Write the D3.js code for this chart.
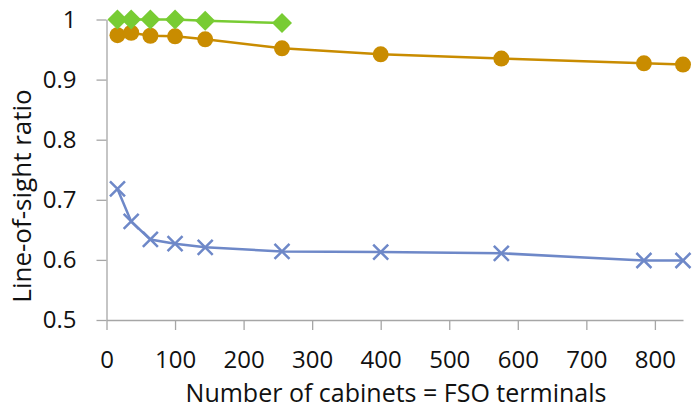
<!DOCTYPE html>
<html><head><meta charset="utf-8">
<script src="https://cdn.jsdelivr.net/npm/d3@7"></script>
<style>body{margin:0;background:#fff}text{font-family:"Open Sans",sans-serif;fill:#111}</style>
</head><body><svg id="c" width="692" height="407"></svg>
<script>
const cabinets = [16, 36, 64, 100, 144, 256, 400, 576, 784, 841];
const greenValues = [1.0, 1.0, 1.0, 1.0, 0.998, 0.994];
const orangeValues = [0.974, 0.978, 0.973, 0.972, 0.967, 0.952, 0.942, 0.935, 0.927, 0.925];
const blueValues = [0.718, 0.664, 0.634, 0.627, 0.621, 0.614, 0.613, 0.611, 0.599, 0.599];
const xTicks = [0, 100, 200, 300, 400, 500, 600, 700, 800];
const yTicks = [0.5, 0.6, 0.7, 0.8, 0.9, 1];

const svg = d3.select("#c");
const x = d3.scaleLinear().domain([0, 841]).range([106.5, 683]);
const y = d3.scaleLinear().domain([0.5, 1]).range([320, 19.5]);
const axisColor = "#a6a6a6";

const xa = svg.append("g").attr("transform", "translate(0,320)")
  .call(d3.axisBottom(x).tickValues(xTicks).tickSize(10).tickPadding(20.5).tickSizeOuter(0).tickFormat(d3.format("d")));
const ya = svg.append("g").attr("transform", "translate(106.5,0)")
  .call(d3.axisLeft(y).tickValues(yTicks).tickSize(10).tickPadding(20).tickSizeOuter(0).tickFormat(d => d === 1 ? "1" : d3.format(".1f")(d)));
[xa, ya].forEach(a => {
  a.selectAll("path,line").attr("stroke", axisColor).attr("stroke-width", 1.3);
  a.selectAll("text").style("font-size", "24px").attr("fill", "#111");
});

svg.append("text").attr("x", 396).attr("y", 401.5).attr("text-anchor", "middle")
  .style("font-size", "25px").text("Number of cabinets = FSO terminals");
svg.append("text").attr("transform", "translate(31,196) rotate(-90)").attr("text-anchor", "middle")
  .style("font-size", "26px").text("Line-of-sight ratio");

const line = d3.line().x(d => x(d[0])).y(d => y(d[1]));
function series(vals, color) {
  const pts = vals.map((v, i) => [cabinets[i], v]);
  svg.append("path").datum(pts).attr("d", line).attr("fill", "none").attr("stroke", color).attr("stroke-width", 2.5);
  return pts;
}
const bluePts = series(blueValues, "#6e88c8");
svg.append("g").selectAll("path").data(bluePts).join("path")
  .attr("d", d => { const cx = x(d[0]), cy = y(d[1]), s = 7.5; return `M${cx-s},${cy-s}L${cx+s},${cy+s}M${cx-s},${cy+s}L${cx+s},${cy-s}`; })
  .attr("stroke", "#6e88c8").attr("stroke-width", 2.5).attr("fill", "none");
const orangePts = series(orangeValues, "#c98c00");
svg.append("g").selectAll("circle").data(orangePts).join("circle")
  .attr("cx", d => x(d[0])).attr("cy", d => y(d[1])).attr("r", 8).attr("fill", "#c98c00");
const greenPts = series(greenValues, "#78cc33");
svg.append("g").selectAll("path").data(greenPts).join("path")
  .attr("d", d => { const cx = x(d[0]), cy = y(d[1]), s = 10; return `M${cx},${cy-s}L${cx+s},${cy}L${cx},${cy+s}L${cx-s},${cy}Z`; })
  .attr("fill", "#78cc33");
</script></body></html>
